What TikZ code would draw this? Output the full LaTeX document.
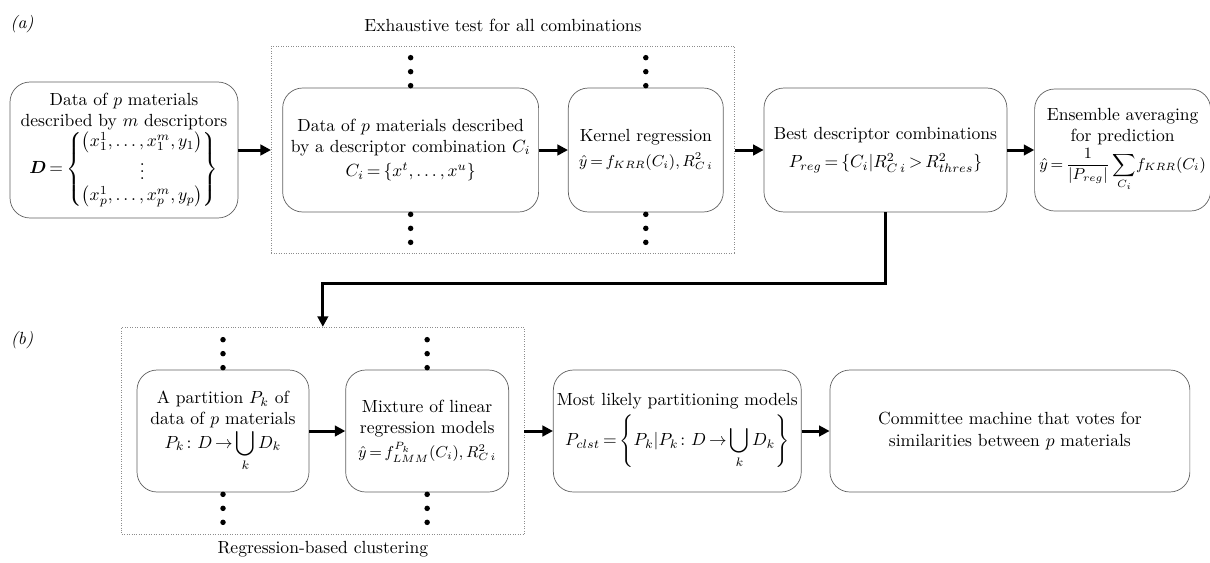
\documentclass[tikz,border=0pt]{standalone}
\usepackage{amsmath}
\usepackage{tikz}
\usetikzlibrary{positioning,fit,arrows.meta}
\definecolor{Edge}{HTML}{5F5F5F}
\definecolor{Frame}{HTML}{8C8C8C}
\thickmuskip=3mu plus 2mu
\medmuskip=2mu plus 1mu

\begin{document}
\begin{tikzpicture}[x=0.02cm,y=-0.02cm,
    box/.style={draw=Edge,rounded corners=.4cm,align=center,minimum height=2.48cm,inner sep=2pt},
    frame/.style={draw=Frame,densely dotted,inner ysep=.83cm},
    arr/.style={-{Triangle[length=6pt,width=6pt]},line width=1.7pt}
  ]
    \useasboundingbox (0,0) rectangle (1210,562);
    % (a) exhaustive search over descriptor combinations
    \node[box,minimum width=4.56cm,minimum height=2.72cm] (data) at (124,150)
      {Data of $p$ materials\\described by $m$ descriptors\\
       $\boldsymbol{D}=\left\{\begin{matrix}\left(x_1^1,\ldots,x_1^m,y_1\right)\\ \vdots\\ \left(x_p^1,\ldots,x_p^m,y_p\right)\end{matrix}\right\}$};
    \node[box,minimum width=5.12cm,right=.88cm of data] (comb)
      {Data of $p$ materials described\\by a descriptor combination $C_i$\\[2pt] $C_i=\{x^t,\ldots,x^u\}$};
    \node[box,minimum width=3.1cm,right=.58cm of comb] (krr)
      {Kernel regression\\[2pt] {\small$\hat{y}=f_{KRR}(C_i),R^2_{C\,i}$}};
    \node[frame,inner xsep=.22cm,fit=(comb)(krr)] (ex) {};
    \node[box,minimum width=4.86cm,right=.8cm of krr] (best)
      {Best descriptor combinations\\[4pt] $P_{reg}=\{C_i|R^2_{C\,i}>R^2_{thres}\}$};
    \node[box,minimum width=3.52cm,minimum height=2.44cm,inner sep=1pt,right=.54cm of best] (ens)
      {Ensemble averaging\\for prediction\\[1pt]
       {\small$\displaystyle\hat{y}=\frac{1}{|P_{reg}|}\sum_{C_i}\!f_{KRR}(C_i)$}};
    % (b) regression-based clustering
    \node[box,minimum width=3.44cm,minimum height=2.44cm] (part) at (223,431)
      {A partition $P_k$ of\\data of $p$ materials\\ $\displaystyle P_k\colon D\to\bigcup_k D_k$};
    \node[box,minimum width=3.26cm,minimum height=2.44cm,right=.72cm of part] (lmm)
      {Mixture of linear\\regression models\\[2pt] {\small$\hat{y}=f^{P_k}_{LMM}(C_i),R^2_{C\,i}$}};
    \node[frame,inner xsep=.3cm,inner ysep=.85cm,fit=(part)(lmm)] (clu) {};
    \node[box,minimum width=4.26cm,minimum height=2.44cm,right=.88cm of lmm] (clst)
      {Most likely partitioning models\\[2pt] $\displaystyle P_{clst}=\left\{P_k|P_k\colon D\to\bigcup_k D_k\right\}$};
    \node[box,minimum width=7.2cm,minimum height=2.44cm,right=.56cm of clst] (vote)
      {Committee machine that votes for\\similarities between $p$ materials};
    % dots for the repeated combinations
    \foreach \n in {comb,krr,part,lmm}
      \foreach \d in {.04cm,.32cm,.6cm}{
        \fill ([yshift=\d]\n.north) circle (.055cm);
        \fill ([yshift=-\d]\n.south) circle (.055cm);
      }
    \node (la) at (22,24) {\textit{(a)}};
    \node (lb) at (22,340) {\textit{(b)}};
    \node[above=.15cm of ex] (extitle) {Exhaustive test for all combinations};
    \node[below=0cm of clu] (clutitle) {Regression-based clustering};
    \coordinate[below=1.42cm of best] (turn);
    \draw[arr] (data) -- (ex); \draw[arr] (comb) -- (krr); \draw[arr] (ex) -- (best); \draw[arr] (best) -- (ens);
    \draw[arr] (best.south) -- (turn) -| (clu.north);
    \draw[arr] (part) -- (lmm); \draw[arr] (clu) -- (clst); \draw[arr] (clst) -- (vote);
  \end{tikzpicture}
\end{document}
